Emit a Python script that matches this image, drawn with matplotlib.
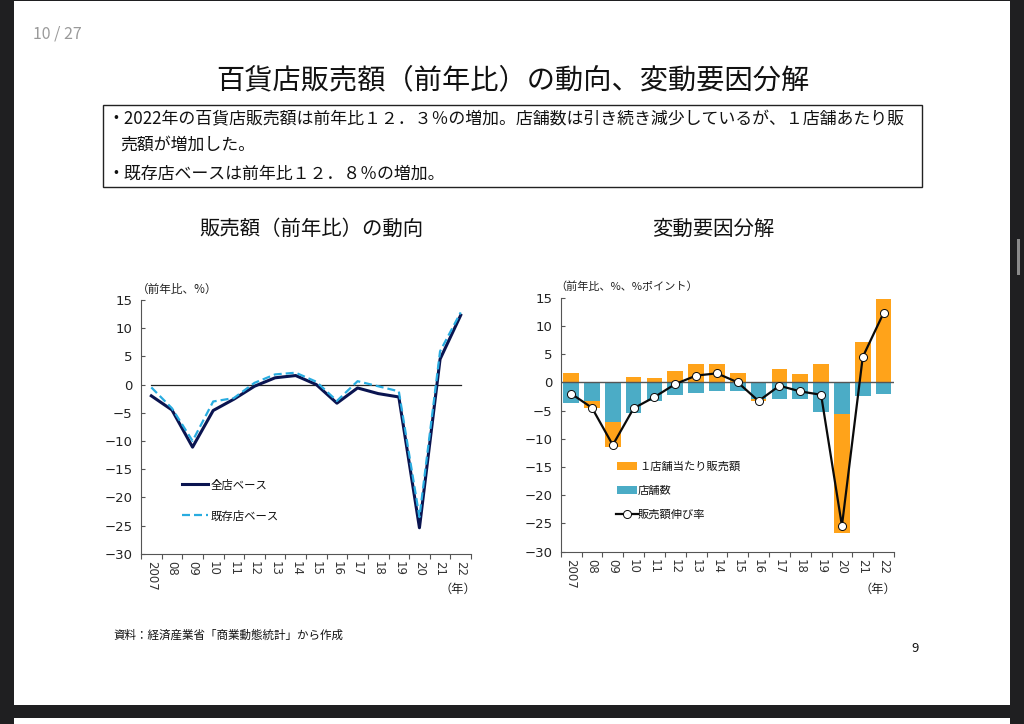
import numpy as np
import matplotlib
matplotlib.use("Agg")
import matplotlib.pyplot as plt
from matplotlib.patches import Rectangle

plt.rcParams['font.family'] = ['Noto Sans CJK JP', 'DejaVu Sans']

years = ['2007', '08', '09', '10', '11', '12', '13', '14', '15', '16', '17', '18', '19', '20', '21', '22']
all_stores = [-2.0, -4.5, -11.1, -4.6, -2.6, -0.3, 1.2, 1.6, 0.0, -3.3, -0.6, -1.6, -2.2, -25.4, 4.5, 12.3]
existing = [-0.5, -4.2, -10.0, -3.0, -2.4, 0.3, 1.8, 2.1, 0.5, -2.9, 0.6, -0.3, -1.2, -23.5, 5.9, 12.8]
store_count = [-3.6, -3.3, -7.0, -5.5, -3.3, -2.3, -1.9, -1.6, -1.6, -2.9, -2.9, -3.0, -5.2, -5.6, -2.5, -2.0]
per_store = [1.6, -1.3, -4.5, 0.9, 0.7, 2.0, 3.2, 3.2, 1.6, -0.4, 2.3, 1.4, 3.2, -21.0, 7.1, 14.7]
yticks = [15, 10, 5, 0, -5, -10, -15, -20, -25, -30]

W, H = 1024, 724
fig = plt.figure(figsize=(W / 100, H / 100), dpi=100, facecolor='#1f1f21')

# Page and all annotation text live on a pixel-coordinate overlay
bg = fig.add_axes([0, 0, 1, 1])
bg.set_xlim(0, W)
bg.set_ylim(H, 0)
bg.axis('off')
bg.add_patch(Rectangle((14, 1), 996, 704, fc='white', ec='none'))
bg.add_patch(Rectangle((1017, 239), 3, 36, fc='#8a8a8a', ec='none'))
bg.add_patch(Rectangle((14, 718), 996, 6, fc='white', ec='none'))
bg.add_patch(Rectangle((102.5, 104.5), 819, 82, fc='none', ec='#222222', lw=1.0))

def T(x, y, s, size, ha='left', color='#111111', **kw):
    bg.text(x, y, s, fontsize=size, ha=ha, va='center', color=color, **kw)

T(57, 34, '10 / 27', 11.5, ha='center', color='#9a9a9a')
T(512.5, 80, '百貨店販売額（前年比）の動向、変動要因分解', 20.3, ha='center')
T(107, 119, '・2022年の百貨店販売額は前年比１２．３％の増加。店舗数は引き続き減少しているが、１店舗あたり販', 12.2)
T(120, 145, '売額が増加した。', 12.2)
T(107, 174, '・既存店ベースは前年比１２．８％の増加。', 12.2)
T(311, 229, '販売額（前年比）の動向', 14.7, ha='center')
T(713, 229, '変動要因分解', 14.7, ha='center')
T(113, 635, '資料：経済産業省「商業動態統計」から作成', 8.3)
T(915, 648, '9', 9.5, ha='center')


def make_axes(x0, x1, ytop, ybot):
    ax = fig.add_axes([x0 / W, 1 - ybot / H, (x1 - x0) / W, (ybot - ytop) / H])
    ax.patch.set_alpha(0)
    ax.set_xlim(-0.5, len(years) - 0.5)
    ax.set_ylim(-30, 15)
    ax.set_yticks(yticks)
    ax.set_xticks(np.arange(-0.5, len(years)))
    ax.set_xticklabels([])
    ax.set_xticks(np.arange(len(years)), labels=years, minor=True, rotation=-90,
                  fontsize=8.5, color='#333333', family='DejaVu Sans')
    ax.tick_params(axis='x', which='minor', length=0, pad=5)
    ax.tick_params(axis='x', which='major', length=3.5, width=0.8, color='#555555', direction='out')
    ax.tick_params(axis='y', length=3, width=0.8, color='#555555', direction='in',
                   labelsize=9.5, labelcolor='#222222', pad=6)
    for lab in ax.get_yticklabels():
        lab.set_family('DejaVu Sans')
    for s in ('top', 'right'):
        ax.spines[s].set_visible(False)
    for s in ('left', 'bottom'):
        ax.spines[s].set_color('#555555')
        ax.spines[s].set_linewidth(0.8)
    return ax


# Left chart
a1 = make_axes(141, 471, 300, 553.7)
x = np.arange(len(years))
a1.plot([x[0], x[-1]], [0, 0], color='#222222', lw=0.9, zorder=1)
a1.plot(x, all_stores, color='#0a1450', lw=2.2, zorder=2)
a1.plot(x, existing, color='#29ace0', lw=1.6, dashes=(3.6, 1.8), zorder=3)
T(137, 289.5, '（前年比、%）', 8.4, color='#222222')
T(439, 589, '（年）', 8.8, color='#222222')
bg.plot([182, 208], [484, 484], color='#0a1450', lw=2.2)
bg.plot([182, 208], [515, 515], color='#29ace0', lw=1.6, dashes=(3.6, 1.8))
T(211, 485, '全店ベース', 8.2)
T(211, 516, '既存店ベース', 8.2)

# Right chart
a2 = make_axes(560.7, 894, 297.7, 551.7)
count = np.array(store_count)
per = np.array(per_store)
growth = np.array(all_stores)
base = np.where(per < 0, count, 0.0)
a2.bar(x, count, width=0.75, color='#4bacc6', zorder=2)
a2.bar(x, per, bottom=base, width=0.75, color='#ffa31a', zorder=2)
a2.axhline(0, color='#555555', lw=1.0, zorder=3)
a2.plot(x, growth, color='#0a0a0a', lw=1.6, marker='o', ms=5.8, mfc='white',
        mec='#0a0a0a', mew=0.7, zorder=4)
T(555, 287, '（前年比、%、%ポイント）', 8.0, color='#222222')
T(860, 589, '（年）', 8.8, color='#222222')
bg.add_patch(Rectangle((617, 462), 20, 8, fc='#ffa31a', ec='none'))
bg.add_patch(Rectangle((617, 486), 20, 8, fc='#4bacc6', ec='none'))
bg.plot([616, 638], [514, 514], color='#0a0a0a', lw=1.6)
bg.plot([627], [514], marker='o', ms=5.8, mfc='white', mec='#0a0a0a', mew=0.7)
T(639, 467, '１店舗当たり販売額', 8.1)
T(638, 491, '店舗数', 8.1)
T(638, 515, '販売額伸び率', 8.1)

fig.savefig('out.png', dpi=100, facecolor=fig.get_facecolor())
